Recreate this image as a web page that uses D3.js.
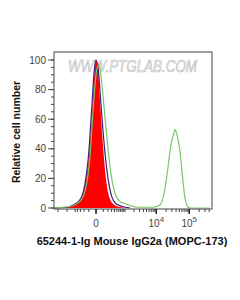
<!DOCTYPE html>
<html>
<head>
<meta charset="utf-8">
<script src="https://cdn.jsdelivr.net/npm/d3@7"></script>
<style>
body { margin: 0; background: #fff; }
</style>
</head>
<body>
<div id="chart"></div>
<script>

let width = 240
let height = 300

// fluorescence value, relative cell number
let isotypeX = [-2700, -1000, -600, -300, -180, -100, -50, -20, 0, 20, 50, 100, 160, 250, 400, 700, 1500]
let isotypeY = [0, 0.5, 2, 6, 15, 35, 65, 90, 100, 95, 72, 40, 18, 6, 2, 0.5, 0]

let blankX = [-2700, -1000, -600, -300, -180, -100, -50, -20, 0, 25, 60, 120, 200, 300, 450, 800, 1500]
let blankY = [0, 0.5, 2, 6, 16, 38, 70, 93, 100, 94, 72, 42, 20, 8, 3, 1, 0]

let sampleX = [-2700, -800, -300, -150, -80, -30, 0, 30, 60, 134, 200, 253, 422, 700, 1000, 1500, 3000, 8000, 12900, 18000, 22000, 26000, 30000, 34000, 37000, 42000, 52000, 62000, 74000, 90000, 110000, 400000]
let sampleY = [0, 1, 5, 15, 35, 70, 90, 97, 90, 61, 40, 28, 10, 4, 3, 1.5, 0.5, 0.5, 2, 12, 25, 38, 46, 50, 53, 50, 39, 22, 7, 1, 0, 0]

let yTicks = [0, 20, 40, 60, 80, 100]
let xLabels = [{v: 0, base: '0', sup: ''}, {v: 10000, base: '10', sup: '4'}, {v: 100000, base: '10', sup: '5'}]
let xMinor = [-2000, -1000, -500, -400, -300, -200, -100, 0, 100, 200, 300, 400, 500, 600, 700, 800, 900,
	1000, 2000, 3000, 4000, 5000, 6000, 7000, 8000, 9000,
	10000, 20000, 30000, 40000, 50000, 60000, 70000, 80000, 90000,
	100000, 200000, 300000, 400000]

let plotLeft = 54, plotRight = 212, plotTop = 52, plotBottom = 209

const svg = d3.select('#chart')
	.append('svg')
	.attr('width', width)
	.attr('height', height)
	.style('font-family', 'Liberation Sans, Arial, sans-serif')

let x = d3.scaleSymlog()
	.constant(154)
	.domain([-2700, 487000])
	.range([plotLeft, plotRight])

let y = d3.scaleLinear()
	.domain([0, 100])
	.range([208, 60])

// watermark
svg.append('text')
	.attr('x', 68)
	.attr('y', 72)
	.attr('font-size', 16)
	.attr('font-style', 'italic')
	.attr('textLength', 129)
	.attr('lengthAdjust', 'spacingAndGlyphs')
	.attr('fill', '#f2f2f2')
	.attr('stroke', '#b8b8b8')
	.attr('stroke-width', 0.6)
	.text('WWW.PTGLAB.COM')

let area = d3.area()
	.x(d => x(d[0]))
	.y0(y(0))
	.y1(d => y(d[1]))
	.curve(d3.curveMonotoneX)

let line = d3.line()
	.x(d => x(d[0]))
	.y(d => y(d[1]))
	.curve(d3.curveMonotoneX)

svg.append('path')
	.datum(d3.zip(isotypeX, isotypeY))
	.attr('d', area)
	.attr('fill', '#ff0000')

svg.append('path')
	.datum(d3.zip(blankX, blankY))
	.attr('d', line)
	.attr('fill', 'none')
	.attr('stroke', '#4b1a7a')
	.attr('stroke-width', 1.2)

svg.append('path')
	.datum(d3.zip(sampleX, sampleY))
	.attr('d', line)
	.attr('fill', 'none')
	.attr('stroke', '#7cc46a')
	.attr('stroke-width', 1.2)

// frame
svg.append('rect')
	.attr('x', plotLeft)
	.attr('y', plotTop)
	.attr('width', plotRight - plotLeft)
	.attr('height', plotBottom - plotTop)
	.attr('fill', 'none')
	.attr('stroke', '#444')
	.attr('stroke-width', 1)

// y axis
let yAxis = svg.append('g')
	.attr('transform', `translate(${plotLeft},0)`)

yAxis.selectAll('.minor')
	.data(d3.range(0, 105, 5))
	.enter()
	.append('line')
	.attr('x1', -3)
	.attr('x2', 0)
	.attr('y1', d => y(d))
	.attr('y2', d => y(d))
	.attr('stroke', '#444')

yAxis.selectAll('.major')
	.data(yTicks)
	.enter()
	.append('line')
	.attr('x1', -6)
	.attr('x2', 0)
	.attr('y1', d => y(d))
	.attr('y2', d => y(d))
	.attr('stroke', '#444')

yAxis.selectAll('text')
	.data(yTicks)
	.enter()
	.append('text')
	.attr('x', -8)
	.attr('y', d => y(d) + 3.5)
	.attr('text-anchor', 'end')
	.attr('font-size', 10)
	.attr('fill', '#444')
	.text(d => d)

// x axis
let xAxis = svg.append('g')
	.attr('transform', `translate(0,${plotBottom})`)

xAxis.selectAll('.minor')
	.data(xMinor)
	.enter()
	.append('line')
	.attr('x1', d => x(d))
	.attr('x2', d => x(d))
	.attr('y1', 0)
	.attr('y2', 3)
	.attr('stroke', '#444')

xAxis.selectAll('.major')
	.data(xLabels)
	.enter()
	.append('line')
	.attr('x1', d => x(d.v))
	.attr('x2', d => x(d.v))
	.attr('y1', 0)
	.attr('y2', 5)
	.attr('stroke', '#222')
	.attr('stroke-width', 1.5)

let xl = xAxis.selectAll('text')
	.data(xLabels)
	.enter()
	.append('text')
	.attr('x', d => x(d.v))
	.attr('y', 18)
	.attr('text-anchor', 'middle')
	.attr('font-size', 10)
	.attr('fill', '#444')

xl.append('tspan').text(d => d.base)
xl.append('tspan')
	.attr('dy', -5)
	.attr('font-size', 8)
	.text(d => d.sup)

// titles
svg.append('text')
	.attr('transform', 'translate(20,132) rotate(-90)')
	.attr('text-anchor', 'middle')
	.attr('font-size', 10.5)
	.attr('font-weight', 'bold')
	.attr('fill', '#111')
	.text('Relative cell number')

svg.append('text')
	.attr('x', 132)
	.attr('y', 245)
	.attr('text-anchor', 'middle')
	.attr('font-size', 11)
	.attr('font-weight', 'bold')
	.attr('fill', '#111')
	.text('65244-1-Ig Mouse IgG2a (MOPC-173)')

</script>
</body>
</html>
